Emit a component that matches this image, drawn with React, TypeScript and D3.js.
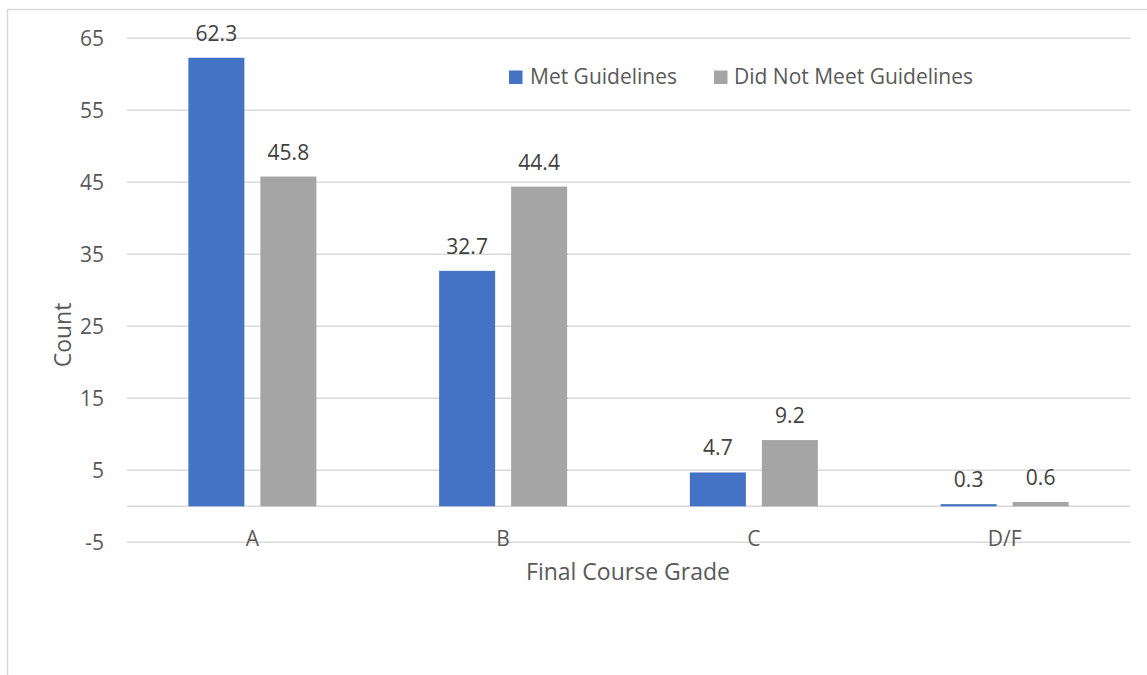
import React from "react";
import * as d3 from "d3";

const categories = ["A", "B", "C", "D/F"];
const seriesNames = ["Met Guidelines", "Did Not Meet Guidelines"];
const metValues = [62.3, 32.7, 4.7, 0.3];
const notMetValues = [45.8, 44.4, 9.2, 0.6];
const yTicks = [65, 55, 45, 35, 25, 15, 5, -5];
const colors = ["#4472C4", "#A5A5A5"];

const W = 1147;
const H = 675;
const plot = { left: 127, right: 1130, top: 38.3, bottom: 542.3 };
const font = "'Open Sans', 'Liberation Sans', sans-serif";
const textColor = "#595959";

export default function App() {
  const y = d3.scaleLinear().domain([-5, 65]).range([plot.bottom, plot.top]);
  const x0 = d3.scaleBand().domain(categories).range([plot.left, plot.right]);
  const barW = 56;
  const inner = 16;
  const groupW = barW * 2 + inner;
  const series = [metValues, notMetValues];

  return (
    <svg
      width={W}
      height={H}
      style={{ position: "absolute", left: 0, top: 0, background: "#fff" }}
      fontFamily={font}
    >
      <rect x={7.5} y={9.5} width={W + 10} height={H + 10} fill="#fff" stroke="#D9D9D9" strokeWidth={1.5} />
      {yTicks.map((t) => (
        <g key={t}>
          <line x1={plot.left} x2={plot.right} y1={y(t)} y2={y(t)} stroke="#D9D9D9" strokeWidth={1.5} />
          <text x={104} y={y(t) + 7.5} textAnchor="end" fontSize={21} fill={textColor}>
            {t}
          </text>
        </g>
      ))}
      <line x1={plot.left} x2={plot.right} y1={y(0)} y2={y(0)} stroke="#D9D9D9" strokeWidth={1.5} />
      {series.map((vals, si) =>
        vals.map((v, i) => {
          const cx = (x0(categories[i]) as number) + x0.bandwidth() / 2;
          const bx = cx - groupW / 2 + si * (barW + inner);
          const top = y(Math.max(v, 0));
          const h = Math.abs(y(v) - y(0));
          return (
            <g key={`${si}-${i}`}>
              <rect x={bx} y={top} width={barW} height={h} fill={colors[si]} />
              <text x={bx + barW / 2} y={top - 17} textAnchor="middle" fontSize={21} fill="#404040">
                {v}
              </text>
            </g>
          );
        })
      )}
      {categories.map((c) => (
        <text
          key={c}
          x={(x0(c) as number) + x0.bandwidth() / 2}
          y={545.5}
          textAnchor="middle"
          fontSize={21}
          fill={textColor}
        >
          {c}
        </text>
      ))}
      <text x={628} y={580} textAnchor="middle" fontSize={23} fill={textColor}>
        Final Course Grade
      </text>
      <text
        transform={`translate(71, 335) rotate(-90)`}
        textAnchor="middle"
        fontSize={23}
        fill={textColor}
      >
        Count
      </text>
      <g>
        <rect x={509} y={70.5} width={13.5} height={13.5} fill={colors[0]} />
        <text x={530} y={84} fontSize={21} fill={textColor}>
          {seriesNames[0]}
        </text>
        <rect x={714} y={70.5} width={13.5} height={13.5} fill={colors[1]} />
        <text x={734} y={84} fontSize={21} fill={textColor}>
          {seriesNames[1]}
        </text>
      </g>
    </svg>
  );
}
